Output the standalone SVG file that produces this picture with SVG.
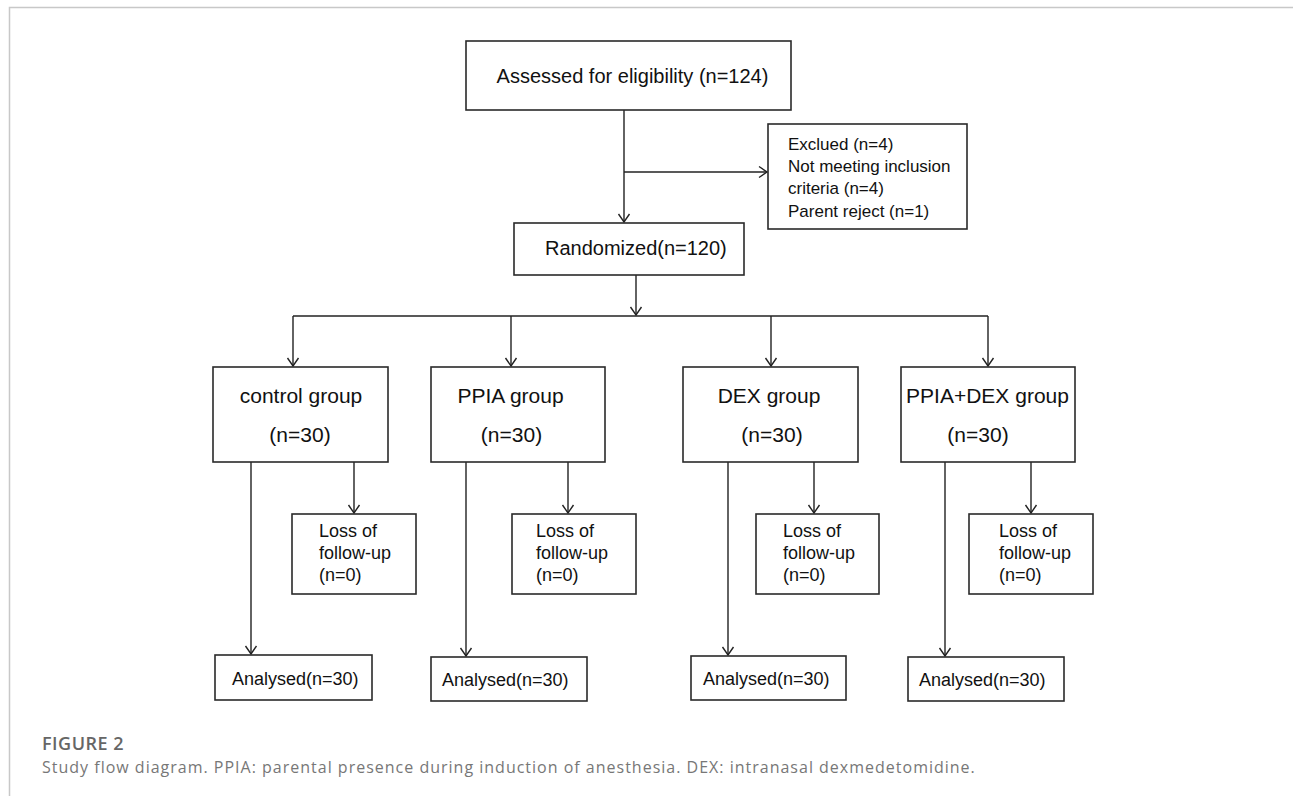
<svg xmlns="http://www.w3.org/2000/svg" width="1293" height="796" viewBox="0 0 1293 796">
<defs>
<marker id="arr" markerUnits="userSpaceOnUse" markerWidth="12" markerHeight="14" viewBox="-10 -7 12 14" refX="0" refY="0" orient="auto">
<path d="M-8,-5.5 L0,0 L-8,5.5" fill="none" stroke="#222" stroke-width="1.4"/>
</marker>
<style>
.box{fill:#fff;stroke:#2a2a2a;stroke-width:1.6}
.ln{fill:none;stroke:#222;stroke-width:1.4}
.ar{fill:none;stroke:#222;stroke-width:1.4;marker-end:url(#arr)}
.t{font-family:"Liberation Sans",Arial,sans-serif;fill:#111}
.t20{font-size:20px}
.t21{font-size:21px}
.t17{font-size:17px}
.t18{font-size:18px}
.mid{text-anchor:middle}
.cap{font-family:"Open Sans","Noto Sans",sans-serif}
</style>
</defs>
<rect width="1293" height="796" fill="#fff"/>
<path d="M9.5,796 L9.5,7.5 L1293,7.5" fill="none" stroke="#c8c8c8" stroke-width="1.5"/>

<g id="connectors">
<line class="ar" x1="624" y1="110" x2="624" y2="222"/>
<line class="ar" x1="624" y1="172" x2="767" y2="172"/>
<line class="ar" x1="636" y1="275" x2="636" y2="315"/>
<line class="ln" x1="293" y1="316" x2="988" y2="316"/>
<line class="ar" x1="293" y1="316" x2="293" y2="366"/>
<line class="ar" x1="511" y1="316" x2="511" y2="366"/>
<line class="ar" x1="771" y1="316" x2="771" y2="366"/>
<line class="ar" x1="988" y1="316" x2="988" y2="366"/>
<line class="ar" x1="251" y1="462" x2="251" y2="654"/>
<line class="ar" x1="354" y1="462" x2="354" y2="513"/>
<line class="ar" x1="466" y1="462" x2="466" y2="656"/>
<line class="ar" x1="568" y1="462" x2="568" y2="513"/>
<line class="ar" x1="728" y1="462" x2="728" y2="655"/>
<line class="ar" x1="814" y1="462" x2="814" y2="513"/>
<line class="ar" x1="945" y1="462" x2="945" y2="656"/>
<line class="ar" x1="1031" y1="462" x2="1031" y2="513"/>
</g>

<g id="assessed">
<rect class="box" x="466" y="41" width="325" height="69"/>
<text class="t t20 mid" x="632.5" y="83">Assessed for eligibility (n=124)</text>
</g>
<g id="excluded">
<rect class="box" x="768" y="124" width="199" height="105"/>
<text class="t t17" x="788" y="150">Exclued (n=4)</text>
<text class="t t17" x="788" y="172">Not meeting inclusion</text>
<text class="t t17" x="788" y="194">criteria (n=4)</text>
<text class="t t17" x="788" y="217">Parent reject (n=1)</text>
</g>
<g id="randomized">
<rect class="box" x="514" y="223" width="230" height="52"/>
<text class="t t20" x="545" y="255">Randomized(n=120)</text>
</g>

<g id="control">
<rect class="box" x="213" y="367" width="175" height="95"/>
<text class="t t21 mid" x="301" y="403">control group</text>
<text class="t t21 mid" x="300" y="442">(n=30)</text>
</g>
<g id="ppia">
<rect class="box" x="431" y="367" width="174" height="95"/>
<text class="t t21 mid" x="510.5" y="403">PPIA group</text>
<text class="t t21 mid" x="511.5" y="442">(n=30)</text>
</g>
<g id="dex">
<rect class="box" x="683" y="367" width="175" height="95"/>
<text class="t t21 mid" x="769" y="403">DEX group</text>
<text class="t t21 mid" x="772" y="442">(n=30)</text>
</g>
<g id="ppiadex">
<rect class="box" x="901" y="367" width="174" height="95"/>
<text class="t t21 mid" x="987.5" y="403">PPIA+DEX group</text>
<text class="t t21 mid" x="978" y="442">(n=30)</text>
</g>

<g id="loss1">
<rect class="box" x="292" y="514" width="124" height="80"/>
<text class="t t18" x="319" y="537">Loss of</text>
<text class="t t18" x="319" y="559">follow-up</text>
<text class="t t18" x="319" y="581">(n=0)</text>
</g>
<g id="loss2">
<rect class="box" x="512" y="514" width="124" height="80"/>
<text class="t t18" x="536" y="537">Loss of</text>
<text class="t t18" x="536" y="559">follow-up</text>
<text class="t t18" x="536" y="581">(n=0)</text>
</g>
<g id="loss3">
<rect class="box" x="756" y="514" width="123" height="80"/>
<text class="t t18" x="783" y="537">Loss of</text>
<text class="t t18" x="783" y="559">follow-up</text>
<text class="t t18" x="783" y="581">(n=0)</text>
</g>
<g id="loss4">
<rect class="box" x="969" y="514" width="124" height="80"/>
<text class="t t18" x="999" y="537">Loss of</text>
<text class="t t18" x="999" y="559">follow-up</text>
<text class="t t18" x="999" y="581">(n=0)</text>
</g>

<g id="analysed1">
<rect class="box" x="215" y="655" width="157" height="45"/>
<text class="t t18" x="232" y="685">Analysed(n=30)</text>
</g>
<g id="analysed2">
<rect class="box" x="431" y="657" width="156" height="44"/>
<text class="t t18" x="442" y="686">Analysed(n=30)</text>
</g>
<g id="analysed3">
<rect class="box" x="691" y="656" width="155" height="44"/>
<text class="t t18" x="703" y="685">Analysed(n=30)</text>
</g>
<g id="analysed4">
<rect class="box" x="908" y="657" width="156" height="44"/>
<text class="t t18" x="919" y="686">Analysed(n=30)</text>
</g>

<g id="caption">
<text class="cap" x="42" y="750" font-size="18" font-weight="600" letter-spacing="0.5" fill="#666">FIGURE 2</text>
<text class="cap" x="42" y="773" font-size="16" letter-spacing="1" fill="#777">Study flow diagram. PPIA: parental presence during induction of anesthesia. DEX: intranasal dexmedetomidine.</text>
</g>
</svg>
